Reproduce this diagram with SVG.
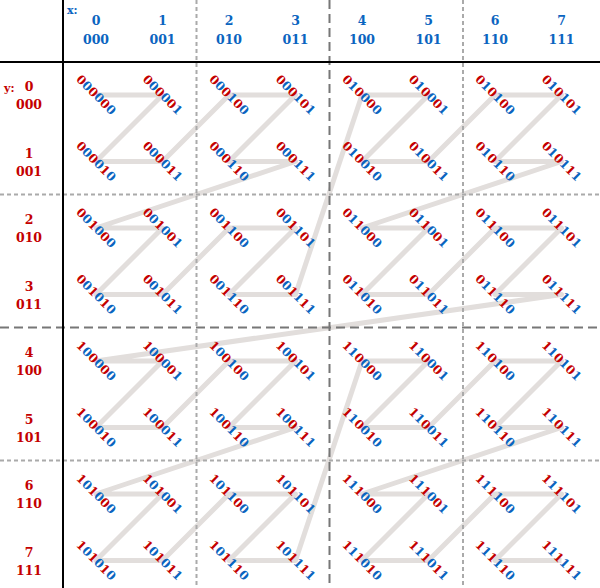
<svg xmlns="http://www.w3.org/2000/svg" width="600" height="588" viewBox="0 0 600 588">
<style>
text{font-family:"DejaVu Serif","Liberation Serif",serif;font-weight:bold}
.lbl{font-size:12px;text-anchor:middle}
.hx{font-size:12.5px;text-anchor:middle;fill:#0a64c0}
.hy{font-size:12.5px;text-anchor:middle;fill:#c40000}
.r{fill:#c40000}
.b{fill:#0a64c0}
.curve{fill:none;stroke:#e2dedc;stroke-width:5;stroke-linejoin:round}
.solid{stroke:#000;stroke-width:2}
.light{stroke:#aaa;stroke-width:2;stroke-dasharray:4 3}
.dark{stroke:#777;stroke-width:2;stroke-dasharray:9 5}
</style>
<rect width="600" height="588" fill="#fff"/>
<g id="connectors">
<polyline class="curve" points="96,95 162.5,95 96,161.5 162.5,161.5 229,95 295.5,95 229,161.5 295.5,161.5 96,228 162.5,228 96,294.5 162.5,294.5 229,228 295.5,228 229,294.5 295.5,294.5 362,95 428.5,95 362,161.5 428.5,161.5 495,95 561.5,95 495,161.5 561.5,161.5 362,228 428.5,228 362,294.5 428.5,294.5 495,228 561.5,228 495,294.5 561.5,294.5 96,361 162.5,361 96,427.5 162.5,427.5 229,361 295.5,361 229,427.5 295.5,427.5 96,494 162.5,494 96,560.5 162.5,560.5 229,494 295.5,494 229,560.5 295.5,560.5 362,361 428.5,361 362,427.5 428.5,427.5 495,361 561.5,361 495,427.5 561.5,427.5 362,494 428.5,494 362,560.5 428.5,560.5 495,494 561.5,494 495,560.5 561.5,560.5"/>
</g>
<g id="grid">
<line class="light" x1="196.5" y1="0" x2="196.5" y2="588"/>
<line class="light" x1="463" y1="0" x2="463" y2="588"/>
<line class="light" x1="0" y1="194.5" x2="600" y2="194.5"/>
<line class="light" x1="0" y1="460.5" x2="600" y2="460.5"/>
<line class="dark" x1="329.5" y1="0" x2="329.5" y2="588"/>
<line class="dark" x1="0" y1="327.5" x2="600" y2="327.5"/>
<line class="solid" x1="63" y1="0" x2="63" y2="588"/>
<line class="solid" x1="0" y1="62" x2="600" y2="62"/>
</g>
<g id="x-header">
<text x="67" y="14" style="font-size:11px;fill:#0a64c0">x:</text>
<text class="hx" x="96" y="25">0</text><text class="hx" x="96" y="44">000</text>
<text class="hx" x="162.5" y="25">1</text><text class="hx" x="162.5" y="44">001</text>
<text class="hx" x="229" y="25">2</text><text class="hx" x="229" y="44">010</text>
<text class="hx" x="295.5" y="25">3</text><text class="hx" x="295.5" y="44">011</text>
<text class="hx" x="362" y="25">4</text><text class="hx" x="362" y="44">100</text>
<text class="hx" x="428.5" y="25">5</text><text class="hx" x="428.5" y="44">101</text>
<text class="hx" x="495" y="25">6</text><text class="hx" x="495" y="44">110</text>
<text class="hx" x="561.5" y="25">7</text><text class="hx" x="561.5" y="44">111</text>
</g>
<g id="y-header">
<text x="4" y="92" style="font-size:11px;fill:#c40000">y:</text>
<text class="hy" x="29" y="91">0</text><text class="hy" x="29" y="109">000</text>
<text class="hy" x="29" y="157.5">1</text><text class="hy" x="29" y="175.5">001</text>
<text class="hy" x="29" y="224">2</text><text class="hy" x="29" y="242">010</text>
<text class="hy" x="29" y="290.5">3</text><text class="hy" x="29" y="308.5">011</text>
<text class="hy" x="29" y="357">4</text><text class="hy" x="29" y="375">100</text>
<text class="hy" x="29" y="423.5">5</text><text class="hy" x="29" y="441.5">101</text>
<text class="hy" x="29" y="490">6</text><text class="hy" x="29" y="508">110</text>
<text class="hy" x="29" y="556.5">7</text><text class="hy" x="29" y="574.5">111</text>
</g>
<g id="n000000"><text class="lbl" transform="translate(96,95) rotate(45)" y="4"><tspan class="r">0</tspan><tspan class="b">0</tspan><tspan class="r">0</tspan><tspan class="b">0</tspan><tspan class="r">0</tspan><tspan class="b">0</tspan></text></g>
<g id="n000001"><text class="lbl" transform="translate(162.5,95) rotate(45)" y="4"><tspan class="r">0</tspan><tspan class="b">0</tspan><tspan class="r">0</tspan><tspan class="b">0</tspan><tspan class="r">0</tspan><tspan class="b">1</tspan></text></g>
<g id="n000010"><text class="lbl" transform="translate(96,161.5) rotate(45)" y="4"><tspan class="r">0</tspan><tspan class="b">0</tspan><tspan class="r">0</tspan><tspan class="b">0</tspan><tspan class="r">1</tspan><tspan class="b">0</tspan></text></g>
<g id="n000011"><text class="lbl" transform="translate(162.5,161.5) rotate(45)" y="4"><tspan class="r">0</tspan><tspan class="b">0</tspan><tspan class="r">0</tspan><tspan class="b">0</tspan><tspan class="r">1</tspan><tspan class="b">1</tspan></text></g>
<g id="n000100"><text class="lbl" transform="translate(229,95) rotate(45)" y="4"><tspan class="r">0</tspan><tspan class="b">0</tspan><tspan class="r">0</tspan><tspan class="b">1</tspan><tspan class="r">0</tspan><tspan class="b">0</tspan></text></g>
<g id="n000101"><text class="lbl" transform="translate(295.5,95) rotate(45)" y="4"><tspan class="r">0</tspan><tspan class="b">0</tspan><tspan class="r">0</tspan><tspan class="b">1</tspan><tspan class="r">0</tspan><tspan class="b">1</tspan></text></g>
<g id="n000110"><text class="lbl" transform="translate(229,161.5) rotate(45)" y="4"><tspan class="r">0</tspan><tspan class="b">0</tspan><tspan class="r">0</tspan><tspan class="b">1</tspan><tspan class="r">1</tspan><tspan class="b">0</tspan></text></g>
<g id="n000111"><text class="lbl" transform="translate(295.5,161.5) rotate(45)" y="4"><tspan class="r">0</tspan><tspan class="b">0</tspan><tspan class="r">0</tspan><tspan class="b">1</tspan><tspan class="r">1</tspan><tspan class="b">1</tspan></text></g>
<g id="n001000"><text class="lbl" transform="translate(96,228) rotate(45)" y="4"><tspan class="r">0</tspan><tspan class="b">0</tspan><tspan class="r">1</tspan><tspan class="b">0</tspan><tspan class="r">0</tspan><tspan class="b">0</tspan></text></g>
<g id="n001001"><text class="lbl" transform="translate(162.5,228) rotate(45)" y="4"><tspan class="r">0</tspan><tspan class="b">0</tspan><tspan class="r">1</tspan><tspan class="b">0</tspan><tspan class="r">0</tspan><tspan class="b">1</tspan></text></g>
<g id="n001010"><text class="lbl" transform="translate(96,294.5) rotate(45)" y="4"><tspan class="r">0</tspan><tspan class="b">0</tspan><tspan class="r">1</tspan><tspan class="b">0</tspan><tspan class="r">1</tspan><tspan class="b">0</tspan></text></g>
<g id="n001011"><text class="lbl" transform="translate(162.5,294.5) rotate(45)" y="4"><tspan class="r">0</tspan><tspan class="b">0</tspan><tspan class="r">1</tspan><tspan class="b">0</tspan><tspan class="r">1</tspan><tspan class="b">1</tspan></text></g>
<g id="n001100"><text class="lbl" transform="translate(229,228) rotate(45)" y="4"><tspan class="r">0</tspan><tspan class="b">0</tspan><tspan class="r">1</tspan><tspan class="b">1</tspan><tspan class="r">0</tspan><tspan class="b">0</tspan></text></g>
<g id="n001101"><text class="lbl" transform="translate(295.5,228) rotate(45)" y="4"><tspan class="r">0</tspan><tspan class="b">0</tspan><tspan class="r">1</tspan><tspan class="b">1</tspan><tspan class="r">0</tspan><tspan class="b">1</tspan></text></g>
<g id="n001110"><text class="lbl" transform="translate(229,294.5) rotate(45)" y="4"><tspan class="r">0</tspan><tspan class="b">0</tspan><tspan class="r">1</tspan><tspan class="b">1</tspan><tspan class="r">1</tspan><tspan class="b">0</tspan></text></g>
<g id="n001111"><text class="lbl" transform="translate(295.5,294.5) rotate(45)" y="4"><tspan class="r">0</tspan><tspan class="b">0</tspan><tspan class="r">1</tspan><tspan class="b">1</tspan><tspan class="r">1</tspan><tspan class="b">1</tspan></text></g>
<g id="n010000"><text class="lbl" transform="translate(362,95) rotate(45)" y="4"><tspan class="r">0</tspan><tspan class="b">1</tspan><tspan class="r">0</tspan><tspan class="b">0</tspan><tspan class="r">0</tspan><tspan class="b">0</tspan></text></g>
<g id="n010001"><text class="lbl" transform="translate(428.5,95) rotate(45)" y="4"><tspan class="r">0</tspan><tspan class="b">1</tspan><tspan class="r">0</tspan><tspan class="b">0</tspan><tspan class="r">0</tspan><tspan class="b">1</tspan></text></g>
<g id="n010010"><text class="lbl" transform="translate(362,161.5) rotate(45)" y="4"><tspan class="r">0</tspan><tspan class="b">1</tspan><tspan class="r">0</tspan><tspan class="b">0</tspan><tspan class="r">1</tspan><tspan class="b">0</tspan></text></g>
<g id="n010011"><text class="lbl" transform="translate(428.5,161.5) rotate(45)" y="4"><tspan class="r">0</tspan><tspan class="b">1</tspan><tspan class="r">0</tspan><tspan class="b">0</tspan><tspan class="r">1</tspan><tspan class="b">1</tspan></text></g>
<g id="n010100"><text class="lbl" transform="translate(495,95) rotate(45)" y="4"><tspan class="r">0</tspan><tspan class="b">1</tspan><tspan class="r">0</tspan><tspan class="b">1</tspan><tspan class="r">0</tspan><tspan class="b">0</tspan></text></g>
<g id="n010101"><text class="lbl" transform="translate(561.5,95) rotate(45)" y="4"><tspan class="r">0</tspan><tspan class="b">1</tspan><tspan class="r">0</tspan><tspan class="b">1</tspan><tspan class="r">0</tspan><tspan class="b">1</tspan></text></g>
<g id="n010110"><text class="lbl" transform="translate(495,161.5) rotate(45)" y="4"><tspan class="r">0</tspan><tspan class="b">1</tspan><tspan class="r">0</tspan><tspan class="b">1</tspan><tspan class="r">1</tspan><tspan class="b">0</tspan></text></g>
<g id="n010111"><text class="lbl" transform="translate(561.5,161.5) rotate(45)" y="4"><tspan class="r">0</tspan><tspan class="b">1</tspan><tspan class="r">0</tspan><tspan class="b">1</tspan><tspan class="r">1</tspan><tspan class="b">1</tspan></text></g>
<g id="n011000"><text class="lbl" transform="translate(362,228) rotate(45)" y="4"><tspan class="r">0</tspan><tspan class="b">1</tspan><tspan class="r">1</tspan><tspan class="b">0</tspan><tspan class="r">0</tspan><tspan class="b">0</tspan></text></g>
<g id="n011001"><text class="lbl" transform="translate(428.5,228) rotate(45)" y="4"><tspan class="r">0</tspan><tspan class="b">1</tspan><tspan class="r">1</tspan><tspan class="b">0</tspan><tspan class="r">0</tspan><tspan class="b">1</tspan></text></g>
<g id="n011010"><text class="lbl" transform="translate(362,294.5) rotate(45)" y="4"><tspan class="r">0</tspan><tspan class="b">1</tspan><tspan class="r">1</tspan><tspan class="b">0</tspan><tspan class="r">1</tspan><tspan class="b">0</tspan></text></g>
<g id="n011011"><text class="lbl" transform="translate(428.5,294.5) rotate(45)" y="4"><tspan class="r">0</tspan><tspan class="b">1</tspan><tspan class="r">1</tspan><tspan class="b">0</tspan><tspan class="r">1</tspan><tspan class="b">1</tspan></text></g>
<g id="n011100"><text class="lbl" transform="translate(495,228) rotate(45)" y="4"><tspan class="r">0</tspan><tspan class="b">1</tspan><tspan class="r">1</tspan><tspan class="b">1</tspan><tspan class="r">0</tspan><tspan class="b">0</tspan></text></g>
<g id="n011101"><text class="lbl" transform="translate(561.5,228) rotate(45)" y="4"><tspan class="r">0</tspan><tspan class="b">1</tspan><tspan class="r">1</tspan><tspan class="b">1</tspan><tspan class="r">0</tspan><tspan class="b">1</tspan></text></g>
<g id="n011110"><text class="lbl" transform="translate(495,294.5) rotate(45)" y="4"><tspan class="r">0</tspan><tspan class="b">1</tspan><tspan class="r">1</tspan><tspan class="b">1</tspan><tspan class="r">1</tspan><tspan class="b">0</tspan></text></g>
<g id="n011111"><text class="lbl" transform="translate(561.5,294.5) rotate(45)" y="4"><tspan class="r">0</tspan><tspan class="b">1</tspan><tspan class="r">1</tspan><tspan class="b">1</tspan><tspan class="r">1</tspan><tspan class="b">1</tspan></text></g>
<g id="n100000"><text class="lbl" transform="translate(96,361) rotate(45)" y="4"><tspan class="r">1</tspan><tspan class="b">0</tspan><tspan class="r">0</tspan><tspan class="b">0</tspan><tspan class="r">0</tspan><tspan class="b">0</tspan></text></g>
<g id="n100001"><text class="lbl" transform="translate(162.5,361) rotate(45)" y="4"><tspan class="r">1</tspan><tspan class="b">0</tspan><tspan class="r">0</tspan><tspan class="b">0</tspan><tspan class="r">0</tspan><tspan class="b">1</tspan></text></g>
<g id="n100010"><text class="lbl" transform="translate(96,427.5) rotate(45)" y="4"><tspan class="r">1</tspan><tspan class="b">0</tspan><tspan class="r">0</tspan><tspan class="b">0</tspan><tspan class="r">1</tspan><tspan class="b">0</tspan></text></g>
<g id="n100011"><text class="lbl" transform="translate(162.5,427.5) rotate(45)" y="4"><tspan class="r">1</tspan><tspan class="b">0</tspan><tspan class="r">0</tspan><tspan class="b">0</tspan><tspan class="r">1</tspan><tspan class="b">1</tspan></text></g>
<g id="n100100"><text class="lbl" transform="translate(229,361) rotate(45)" y="4"><tspan class="r">1</tspan><tspan class="b">0</tspan><tspan class="r">0</tspan><tspan class="b">1</tspan><tspan class="r">0</tspan><tspan class="b">0</tspan></text></g>
<g id="n100101"><text class="lbl" transform="translate(295.5,361) rotate(45)" y="4"><tspan class="r">1</tspan><tspan class="b">0</tspan><tspan class="r">0</tspan><tspan class="b">1</tspan><tspan class="r">0</tspan><tspan class="b">1</tspan></text></g>
<g id="n100110"><text class="lbl" transform="translate(229,427.5) rotate(45)" y="4"><tspan class="r">1</tspan><tspan class="b">0</tspan><tspan class="r">0</tspan><tspan class="b">1</tspan><tspan class="r">1</tspan><tspan class="b">0</tspan></text></g>
<g id="n100111"><text class="lbl" transform="translate(295.5,427.5) rotate(45)" y="4"><tspan class="r">1</tspan><tspan class="b">0</tspan><tspan class="r">0</tspan><tspan class="b">1</tspan><tspan class="r">1</tspan><tspan class="b">1</tspan></text></g>
<g id="n101000"><text class="lbl" transform="translate(96,494) rotate(45)" y="4"><tspan class="r">1</tspan><tspan class="b">0</tspan><tspan class="r">1</tspan><tspan class="b">0</tspan><tspan class="r">0</tspan><tspan class="b">0</tspan></text></g>
<g id="n101001"><text class="lbl" transform="translate(162.5,494) rotate(45)" y="4"><tspan class="r">1</tspan><tspan class="b">0</tspan><tspan class="r">1</tspan><tspan class="b">0</tspan><tspan class="r">0</tspan><tspan class="b">1</tspan></text></g>
<g id="n101010"><text class="lbl" transform="translate(96,560.5) rotate(45)" y="4"><tspan class="r">1</tspan><tspan class="b">0</tspan><tspan class="r">1</tspan><tspan class="b">0</tspan><tspan class="r">1</tspan><tspan class="b">0</tspan></text></g>
<g id="n101011"><text class="lbl" transform="translate(162.5,560.5) rotate(45)" y="4"><tspan class="r">1</tspan><tspan class="b">0</tspan><tspan class="r">1</tspan><tspan class="b">0</tspan><tspan class="r">1</tspan><tspan class="b">1</tspan></text></g>
<g id="n101100"><text class="lbl" transform="translate(229,494) rotate(45)" y="4"><tspan class="r">1</tspan><tspan class="b">0</tspan><tspan class="r">1</tspan><tspan class="b">1</tspan><tspan class="r">0</tspan><tspan class="b">0</tspan></text></g>
<g id="n101101"><text class="lbl" transform="translate(295.5,494) rotate(45)" y="4"><tspan class="r">1</tspan><tspan class="b">0</tspan><tspan class="r">1</tspan><tspan class="b">1</tspan><tspan class="r">0</tspan><tspan class="b">1</tspan></text></g>
<g id="n101110"><text class="lbl" transform="translate(229,560.5) rotate(45)" y="4"><tspan class="r">1</tspan><tspan class="b">0</tspan><tspan class="r">1</tspan><tspan class="b">1</tspan><tspan class="r">1</tspan><tspan class="b">0</tspan></text></g>
<g id="n101111"><text class="lbl" transform="translate(295.5,560.5) rotate(45)" y="4"><tspan class="r">1</tspan><tspan class="b">0</tspan><tspan class="r">1</tspan><tspan class="b">1</tspan><tspan class="r">1</tspan><tspan class="b">1</tspan></text></g>
<g id="n110000"><text class="lbl" transform="translate(362,361) rotate(45)" y="4"><tspan class="r">1</tspan><tspan class="b">1</tspan><tspan class="r">0</tspan><tspan class="b">0</tspan><tspan class="r">0</tspan><tspan class="b">0</tspan></text></g>
<g id="n110001"><text class="lbl" transform="translate(428.5,361) rotate(45)" y="4"><tspan class="r">1</tspan><tspan class="b">1</tspan><tspan class="r">0</tspan><tspan class="b">0</tspan><tspan class="r">0</tspan><tspan class="b">1</tspan></text></g>
<g id="n110010"><text class="lbl" transform="translate(362,427.5) rotate(45)" y="4"><tspan class="r">1</tspan><tspan class="b">1</tspan><tspan class="r">0</tspan><tspan class="b">0</tspan><tspan class="r">1</tspan><tspan class="b">0</tspan></text></g>
<g id="n110011"><text class="lbl" transform="translate(428.5,427.5) rotate(45)" y="4"><tspan class="r">1</tspan><tspan class="b">1</tspan><tspan class="r">0</tspan><tspan class="b">0</tspan><tspan class="r">1</tspan><tspan class="b">1</tspan></text></g>
<g id="n110100"><text class="lbl" transform="translate(495,361) rotate(45)" y="4"><tspan class="r">1</tspan><tspan class="b">1</tspan><tspan class="r">0</tspan><tspan class="b">1</tspan><tspan class="r">0</tspan><tspan class="b">0</tspan></text></g>
<g id="n110101"><text class="lbl" transform="translate(561.5,361) rotate(45)" y="4"><tspan class="r">1</tspan><tspan class="b">1</tspan><tspan class="r">0</tspan><tspan class="b">1</tspan><tspan class="r">0</tspan><tspan class="b">1</tspan></text></g>
<g id="n110110"><text class="lbl" transform="translate(495,427.5) rotate(45)" y="4"><tspan class="r">1</tspan><tspan class="b">1</tspan><tspan class="r">0</tspan><tspan class="b">1</tspan><tspan class="r">1</tspan><tspan class="b">0</tspan></text></g>
<g id="n110111"><text class="lbl" transform="translate(561.5,427.5) rotate(45)" y="4"><tspan class="r">1</tspan><tspan class="b">1</tspan><tspan class="r">0</tspan><tspan class="b">1</tspan><tspan class="r">1</tspan><tspan class="b">1</tspan></text></g>
<g id="n111000"><text class="lbl" transform="translate(362,494) rotate(45)" y="4"><tspan class="r">1</tspan><tspan class="b">1</tspan><tspan class="r">1</tspan><tspan class="b">0</tspan><tspan class="r">0</tspan><tspan class="b">0</tspan></text></g>
<g id="n111001"><text class="lbl" transform="translate(428.5,494) rotate(45)" y="4"><tspan class="r">1</tspan><tspan class="b">1</tspan><tspan class="r">1</tspan><tspan class="b">0</tspan><tspan class="r">0</tspan><tspan class="b">1</tspan></text></g>
<g id="n111010"><text class="lbl" transform="translate(362,560.5) rotate(45)" y="4"><tspan class="r">1</tspan><tspan class="b">1</tspan><tspan class="r">1</tspan><tspan class="b">0</tspan><tspan class="r">1</tspan><tspan class="b">0</tspan></text></g>
<g id="n111011"><text class="lbl" transform="translate(428.5,560.5) rotate(45)" y="4"><tspan class="r">1</tspan><tspan class="b">1</tspan><tspan class="r">1</tspan><tspan class="b">0</tspan><tspan class="r">1</tspan><tspan class="b">1</tspan></text></g>
<g id="n111100"><text class="lbl" transform="translate(495,494) rotate(45)" y="4"><tspan class="r">1</tspan><tspan class="b">1</tspan><tspan class="r">1</tspan><tspan class="b">1</tspan><tspan class="r">0</tspan><tspan class="b">0</tspan></text></g>
<g id="n111101"><text class="lbl" transform="translate(561.5,494) rotate(45)" y="4"><tspan class="r">1</tspan><tspan class="b">1</tspan><tspan class="r">1</tspan><tspan class="b">1</tspan><tspan class="r">0</tspan><tspan class="b">1</tspan></text></g>
<g id="n111110"><text class="lbl" transform="translate(495,560.5) rotate(45)" y="4"><tspan class="r">1</tspan><tspan class="b">1</tspan><tspan class="r">1</tspan><tspan class="b">1</tspan><tspan class="r">1</tspan><tspan class="b">0</tspan></text></g>
<g id="n111111"><text class="lbl" transform="translate(561.5,560.5) rotate(45)" y="4"><tspan class="r">1</tspan><tspan class="b">1</tspan><tspan class="r">1</tspan><tspan class="b">1</tspan><tspan class="r">1</tspan><tspan class="b">1</tspan></text></g>
</svg>
